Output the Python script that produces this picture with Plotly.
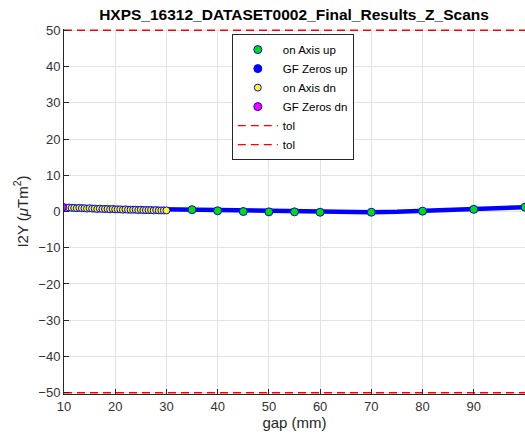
import plotly.graph_objects as go

TITLE = "HXPS_16312_DATASET0002_Final_Results_Z_Scans"

# on-axis probe, upward scan
gap_up = [35, 40, 45, 50, 55, 60, 70, 80, 90, 100]
i2y_up = [0.5, 0.2, 0.0, -0.1, -0.1, -0.2, -0.2, 0.1, 0.6, 1.2]

# gap-fit zeros, upward scan
gap_gf_up = [10, 15, 20, 25, 30, 35, 40, 45, 50, 55, 60, 65, 70, 75, 80, 85, 90, 95, 100]
i2y_gf_up = [1.0, 0.9, 0.8, 0.6, 0.4, 0.4, 0.2, 0.0, -0.1, -0.1, -0.2, -0.2, -0.2, -0.1, 0.1, 0.3, 0.5, 0.8, 1.2]

# on-axis probe, downward scan
gap_dn = [10, 10.5, 11, 11.5, 12, 12.5, 13, 13.5, 14, 14.5, 15, 15.5, 16, 16.5, 17, 17.5,
          18, 18.5, 19, 19.5, 20, 20.5, 21, 21.5, 22, 22.5, 23, 23.5, 24, 24.5, 25, 25.5,
          26, 26.5, 27, 27.5, 28, 28.5, 29, 29.5, 30]
i2y_dn = [1.1, 1.0, 1.1, 1.0, 1.0, 0.9, 1.0, 0.9, 0.9, 0.8, 0.9, 0.8, 0.8, 0.7, 0.8, 0.7,
          0.7, 0.7, 0.6, 0.7, 0.6, 0.6, 0.6, 0.5, 0.6, 0.5, 0.5, 0.5, 0.5, 0.4, 0.5, 0.4,
          0.4, 0.4, 0.4, 0.3, 0.4, 0.3, 0.3, 0.3, 0.3]

# gap-fit zeros, downward scan
gap_gf_dn = [9.7]
i2y_gf_dn = [1.2]

tol = [50, -50]
gap_range = [10, 100]
x_ticks = [10, 20, 30, 40, 50, 60, 70, 80, 90]

TOL_DASH = "8px,5px"

fig = go.Figure()

edge = {"color": "#0000ff", "width": 1}

fig.add_trace(go.Scatter(x=gap_gf_up, y=i2y_gf_up, mode="lines", showlegend=False,
                         line={"color": "#0000ff", "width": 4.5}, hoverinfo="skip"))
fig.add_trace(go.Scatter(x=gap_up, y=i2y_up, mode="markers", name="on Axis up",
                         marker={"size": 8, "color": "#00e000", "line": edge}))
# legend-only entry: the up-scan zeros are drawn as the thick blue line above
fig.add_trace(go.Scatter(x=[None], y=[None], mode="markers", name="GF Zeros up",
                         marker={"size": 8, "color": "#0000ff", "line": edge}))
fig.add_trace(go.Scatter(x=gap_dn, y=i2y_dn, mode="markers", name="on Axis dn",
                         marker={"size": 7, "color": "#ffff00", "line": edge}))
fig.add_trace(go.Scatter(x=gap_gf_dn, y=i2y_gf_dn, mode="markers", name="GF Zeros dn",
                         marker={"size": 8, "color": "#ff00ff", "line": edge}))
for t in tol:
    fig.add_trace(go.Scatter(x=gap_range, y=[t, t], mode="lines", name="tol",
                             line={"color": "#ff0000", "width": 1.3, "dash": TOL_DASH},
                             hoverinfo="skip"))

axis_common = dict(
    showgrid=True, gridcolor="#e3e3e3", gridwidth=1,
    showline=True, linecolor="#262626", linewidth=1,
    ticks="inside", ticklen=5, tickcolor="#262626",
    tickfont={"size": 13, "color": "#333333"},
    zeroline=False,
)

fig.update_layout(
    width=525, height=442,
    template="none",
    font={"family": "Liberation Sans, Arial, sans-serif", "color": "#262626"},
    title={"text": f"<b>{TITLE}</b>", "x": 0.56, "xanchor": "center", "y": 0.968, "yanchor": "middle",
           "font": {"size": 15.5, "color": "#000000"}},
    xaxis=dict(range=gap_range, tickvals=x_ticks,
               title={"text": "gap (mm)", "font": {"size": 15}, "standoff": 4}, **axis_common),
    # tiny padding so the tol lines on the limits are not half-clipped by the frame
    yaxis=dict(range=[-50.35, 50.35], tickvals=list(range(-50, 51, 10)),
               title={"text": "I2Y (<i>μ</i>Tm<sup>2</sup>)", "font": {"size": 15}, "standoff": 6},
               **axis_common),
    margin={"l": 64, "r": 0, "t": 29, "b": 48},
    plot_bgcolor="white", paper_bgcolor="white",
    showlegend=True,
    legend={"x": 0.364, "y": 0.986, "xanchor": "left", "yanchor": "top",
            "bgcolor": "white", "bordercolor": "#262626", "borderwidth": 1,
            "font": {"size": 11.5, "color": "#000000"}, "tracegroupgap": 0,
            "itemwidth": 40},
)

# drop the default 8px body margin so the figure sits flush in the window
fig.write_html("out.html", config={"displayModeBar": False},
               post_script="document.body.style.margin='0';")
